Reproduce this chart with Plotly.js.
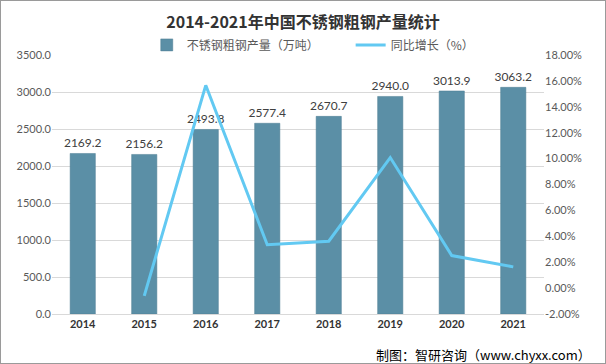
<!DOCTYPE html>
<html>
<head>
<meta charset="utf-8">
<script src="https://cdn.plot.ly/plotly-3.0.1.min.js"></script>
<style>
html,body{margin:0;padding:0;background:#fff;}
#wrap{width:606px;height:364px;box-sizing:border-box;border:1px solid #9a9a9a;position:relative;}
#chart{width:604px;height:362px;}
</style>
</head>
<body>
<div id="wrap"><div id="chart"></div></div>
<script>
const years = ['2014','2015','2016','2017','2018','2019','2020','2021'];
const output = [2169.2, 2156.2, 2493.8, 2577.4, 2670.7, 2940.0, 3013.9, 3063.2];
const growthYears = ['2015','2016','2017','2018','2019','2020','2021'];
const growth = [-0.6, 15.66, 3.35, 3.62, 10.08, 2.51, 1.64];
const leftTicks = [0, 500, 1000, 1500, 2000, 2500, 3000, 3500];
const rightTicks = [-2, 0, 2, 4, 6, 8, 10, 12, 14, 16, 18];
const seriesNames = ['不锈钢粗钢产量（万吨）', '同比增长（%）'];

const numFont = 'Lato, "Noto Sans CJK SC", sans-serif';
const cjkFont = '"Noto Sans CJK SC", Lato, sans-serif';
const pad = '\u00a0'.repeat(10);

const traces = [
  {
    type: 'bar',
    name: seriesNames[0] + pad,
    x: years,
    y: output,
    text: output.map(v => v.toFixed(1)),
    textposition: 'outside',
    constraintext: 'none',
    cliponaxis: false,
    textfont: {family: numFont, size: 12, color: '#404040'},
    marker: {color: '#5b8fa6', line: {color: '#4d7d93', width: 0.5}},
    width: 0.41,
    hoverinfo: 'none'
  },
  {
    type: 'scatter',
    mode: 'lines',
    name: seriesNames[1],
    x: growthYears,
    y: growth,
    yaxis: 'y2',
    line: {color: '#62c9f2', width: 3},
    hoverinfo: 'none'
  }
];

const layout = {
  width: 604,
  height: 362,
  margin: {l: 51, r: 61, t: 54, b: 49},
  paper_bgcolor: '#ffffff',
  plot_bgcolor: '#ffffff',
  showlegend: true,
  title: {
    text: '<b>2014-2021年中国不锈钢粗钢产量统计</b>',
    font: {family: cjkFont, size: 16, color: '#333333'},
    x: 0.5, xanchor: 'center', y: 0.94, yanchor: 'middle'
  },
  legend: {
    orientation: 'h',
    x: 0.53, xanchor: 'center',
    y: 1.039, yanchor: 'middle',
    font: {family: cjkFont, size: 12, color: '#595959'},
    itemwidth: 30,
    tracegroupgap: 0
  },
  xaxis: {
    type: 'category',
    showgrid: false,
    showline: true,
    linecolor: '#d9d9d9',
    linewidth: 1,
    ticks: '',
    tickfont: {family: numFont, size: 11, color: '#333333', weight: 'bold'},
    fixedrange: true
  },
  yaxis: {
    range: [0, 3500],
    tickvals: leftTicks,
    ticktext: leftTicks.map(v => v.toFixed(1)),
    showgrid: true,
    gridcolor: '#d9d9d9',
    gridwidth: 1,
    zeroline: false,
    showline: false,
    ticks: '',
    tickfont: {family: numFont, size: 11, color: '#595959'},
    fixedrange: true
  },
  yaxis2: {
    overlaying: 'y',
    side: 'right',
    range: [-2, 18],
    tickvals: rightTicks,
    ticktext: rightTicks.map(v => v.toFixed(2) + '%'),
    showgrid: false,
    zeroline: false,
    showline: false,
    ticks: '',
    tickfont: {family: numFont, size: 11, color: '#595959'},
    fixedrange: true
  },
  annotations: [
    {
      text: '制图：智研咨询（www.chyxx.com）',
      xref: 'paper', yref: 'paper',
      x: 1.1, xanchor: 'right',
      y: -0.155, yanchor: 'middle',
      showarrow: false,
      font: {family: cjkFont, size: 13, color: '#000000'}
    }
  ]
};

Plotly.newPlot('chart', traces, layout, {displayModeBar: false, staticPlot: true});
</script>
</body>
</html>
